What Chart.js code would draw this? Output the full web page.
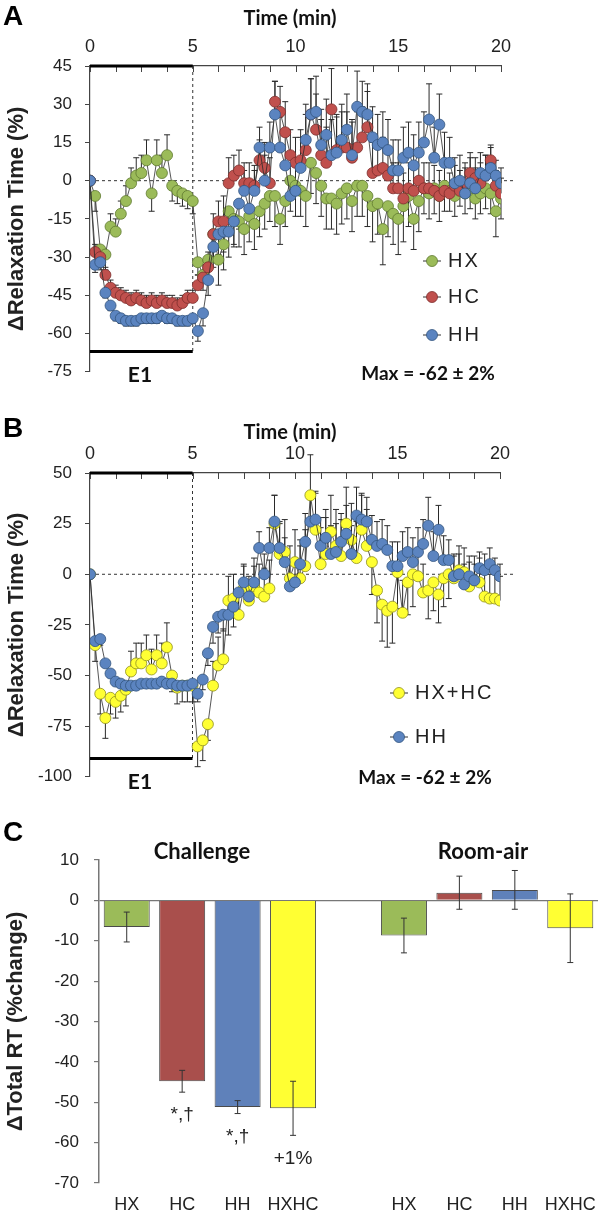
<!DOCTYPE html>
<html>
<head>
<meta charset="utf-8">
<script src="https://cdn.jsdelivr.net/npm/chart.js@4.4.0/dist/chart.umd.min.js"></script>
<style>
  body { margin: 0; background: #fff; width: 600px; height: 1215px; position: relative; overflow: hidden; }
  canvas { position: absolute; left: 0; }
</style>
</head>
<body>
<canvas id="panelA" width="600" height="395" style="top:0"></canvas>
<canvas id="panelB" width="600" height="405" style="top:395px"></canvas>
<canvas id="panelC" width="600" height="415" style="top:800px"></canvas>
<script>
// time points (min), one every 15 s
const timeMin = [0,
  0.25,0.5,0.75,1,1.25,1.5,1.75,2,2.25,2.5,2.75,3,3.25,3.5,3.75,4,4.25,4.5,4.75,5,
  5.25,5.5,5.75,6,6.25,6.5,6.75,7,7.25,7.5,7.75,8,8.25,8.5,8.75,9,9.25,9.5,9.75,10,
  10.25,10.5,10.75,11,11.25,11.5,11.75,12,12.25,12.5,12.75,13,13.25,13.5,13.75,14,14.25,14.5,14.75,15,
  15.25,15.5,15.75,16,16.25,16.5,16.75,17,17.25,17.5,17.75,18,18.25,18.5,18.75,19,19.25,19.5,19.75,20];

// panel A / B series (% change in relaxation time)
const hxValues = [0,
  -6,-27,-29,-18,-20,-13,-8,-1,2,3,8,-5,8,3,10,-2,-4,-5,-6,-8,
  -32,-37,-31,-21,-31,-25,-12,-15,-16,-19,-14,-17,-12,-9,-6,-6,-15,-8,0,-2,
  -4,-6,7,3,-2,-7,-7,-9,-5,-3,-8,-2,-2,-6,-10,-9,-19,-10,-13,-15,
  -10,-6,-15,-8,-3,-5,-3,-6,-2,-4,-6,-2,-5,-3,-7,-5,-3,-5,-12,-7];
const hcValues = [0,
  -28,-30,-37,-42,-44,-45,-46,-47,-46,-47,-48,-47,-48,-47,-48,-48,-49,-48,-46,-46,
  -41,-38,-34,-21,-16,-16,-1,2,4,-1,-1,-2,8,5,-1,31,27,19,10,7,
  8,12,26,20,10,7,28,12,13,13,9,13,17,21,3,4,5,2,-3,-3,
  -7,-3,-4,0,-3,-3,-4,-6,-4,-5,-2,-4,-1,3,1,-1,2,8,-2,-5];
const hhValues = [0,
  -33,-32,-44,-49,-53,-54,-55,-55,-55,-54,-54,-54,-54,-53,-54,-54,-55,-55,-55,-54,
  -59,-52,-39,-26,-21,-20,-20,-16,-9,-4,-11,-4,13,0,13,26,13,6,-6,-4,
  5,16,26,27,14,18,10,11,16,20,10,29,27,26,17,14,15,12,4,4,
  9,11,6,11,15,24,9,22,7,7,-1,0,-5,-1,-3,3,2,5,2,-1];
const hxhcValues = [0,
  -35,-59,-71,-61,-63,-60,-57,-48,-44,-44,-40,-47,-40,-44,-36,-50,-56,-55,-55,-55,
  -85,-82,-74,-55,-45,-42,-13,-12,-20,-7,-13,-6,-9,-11,-7,25,10,11,-2,6,
  -2,4,39,22,5,10,21,14,9,25,17,8,22,14,6,-8,-15,-18,-16,1,
  -19,-4,0,-1,-9,-8,-4,-10,-2,0,-2,2,1,-6,-3,-4,-11,-12,-12,-13];

// one-sided error bars (sign gives direction)
const hxErrors = [0,
  -6,-6,-6,5,5,5,6,6,7,7,8,-7,8,7,8,-6,-5,-5,-5,-5,
  -5,-6,-8,-10,-10,-10,-8,-10,-10,-10,-10,-10,-10,-10,-10,-12,-10,-10,-12,-12,
  -10,-12,-12,-12,-12,-12,-12,-12,-12,-12,-12,-12,-12,-12,-14,-12,-14,-12,-12,-14,
  -14,-12,-12,-12,-10,-10,-10,-10,-10,-8,-8,-8,-8,-8,-8,-8,-8,-8,-10,-8];
const hcErrors = [0,
  3,3,3,3,3,3,3,3,3,3,3,3,3,3,3,3,3,3,3,3,
  4,5,6,8,8,10,10,8,8,8,8,8,8,10,10,8,10,12,10,10,
  12,14,14,14,14,14,16,14,14,14,14,14,12,14,12,12,12,10,10,10,
  10,10,10,10,10,10,10,10,10,8,8,8,8,8,8,8,8,6,6,6];
const hhErrors = [0,
  -3,-3,-2,-2,-2,-2,-2,-2,-2,-2,-2,-2,-2,-2,-2,-2,-2,-2,-2,-2,
  -4,-5,-6,-8,-8,-8,-10,-10,-10,8,8,8,8,10,10,13,12,12,12,12,
  12,14,14,14,14,14,14,14,14,14,14,14,12,12,12,12,12,12,12,12,
  12,12,12,12,12,14,12,12,12,10,10,10,10,10,8,8,8,8,6,6];
const hxhcErrors = [0,
  -8,-10,-10,-8,-8,-8,-8,10,10,10,10,10,10,10,12,-8,-8,-8,-8,-8,
  -10,-10,-8,12,14,15,12,12,12,12,12,14,14,14,14,14,16,16,16,16,
  16,18,20,18,18,18,18,18,18,18,18,18,18,18,-16,-16,-18,-18,-18,-18,
  16,-16,-16,14,14,-14,-14,-14,-14,-12,12,12,12,12,12,12,12,12,12,12];

// panel C
const barLabels = ['HX', 'HC', 'HH', 'HXHC', '', 'HX', 'HC', 'HH', 'HXHC'];
const barValues = [-6.6, -44.8, -51.2, -51.5, null, -8.7, 1.9, 2.6, -6.9];
const barErrors = [3.7, 2.7, 1.6, 6.7, null, 4.3, 4.1, 4.8, 8.5];
const barNotes = ['', '*,†', '*,†', '+1%', '', '', '', '', ''];

const GREEN = '#9bbb59', RED = '#c0504d', BLUE = '#5b84c0', YELLOW = '#ffff33';
const BAR_RED = '#a94f4c', BAR_BLUE = '#5f81ba';
const SANS = 'Liberation Sans, Arial, sans-serif';
const CAL = 'Lato, sans-serif';

function drawText(ctx, txt, x, y, font, align, color) {
    ctx.font = font;
    ctx.fillStyle = color || '#111';
    ctx.textAlign = align || 'center';
    ctx.textBaseline = 'middle';
    ctx.fillText(txt, x, y);
}

const timeDecor = {
    id: 'timeDecor',
    beforeDatasetsDraw(chart, args, o) {
        const { ctx, chartArea: a, scales: { x, y } } = chart;
        ctx.save();
        ctx.strokeStyle = '#333';
        ctx.lineWidth = 1;
        ctx.setLineDash([3, 3]);
        const y0 = y.getPixelForValue(0);
        ctx.beginPath();
        ctx.moveTo(a.left, y0);
        ctx.lineTo(a.right + 14, y0);
        const xe = x.getPixelForValue(o.exposureEnd);
        ctx.moveTo(xe, a.top);
        ctx.lineTo(xe, y.getPixelForValue(o.barLevel));
        ctx.stroke();
        ctx.setLineDash([]);

        // error bars
        ctx.strokeStyle = '#2a2a2a';
        ctx.lineWidth = 1;
        chart.data.datasets.forEach(ds => {
            ds.data.forEach((p, i) => {
                const e = ds.errors[i];
                if (!e) return;
                const px = x.getPixelForValue(p.x);
                const pa = y.getPixelForValue(p.y);
                const pb = y.getPixelForValue(p.y + e);
                ctx.beginPath();
                ctx.moveTo(px, pa);
                ctx.lineTo(px, pb);
                ctx.moveTo(px - 3, pb);
                ctx.lineTo(px + 3, pb);
                ctx.stroke();
            });
        });
        ctx.restore();
    },
    afterDraw(chart, args, o) {
        const { ctx, chartArea: a, scales: { x, y } } = chart;
        ctx.save();
        // inner tick marks on the top axis
        ctx.strokeStyle = '#444';
        ctx.lineWidth = 1;
        x.ticks.forEach(t => {
            const px = Math.round(x.getPixelForValue(t.value)) + 0.5;
            ctx.beginPath();
            ctx.moveTo(px, a.top);
            ctx.lineTo(px, a.top + 6);
            ctx.stroke();
        });
        // exposure bars
        ctx.strokeStyle = '#000';
        ctx.lineWidth = 3;
        const x0 = x.getPixelForValue(0), x5 = x.getPixelForValue(o.exposureEnd);
        ctx.beginPath();
        ctx.moveTo(x0, a.top);
        ctx.lineTo(x5, a.top);
        const yb = y.getPixelForValue(o.barLevel);
        ctx.moveTo(x0, yb);
        ctx.lineTo(x5, yb);
        ctx.stroke();

        drawText(ctx, o.letter, 3, o.letterY, 'bold 28px ' + SANS, 'left', '#000');
        drawText(ctx, 'Time (min)', 290, o.titleY, 'bold 20px ' + CAL, 'center', '#111');
        drawText(ctx, 'E1', 140, o.e1Y, 'bold 21px ' + CAL, 'center', '#111');
        drawText(ctx, 'Max = -62 ± 2%', o.maxX, o.maxY, 'bold 19px ' + CAL, 'center', '#111');

        ctx.save();
        ctx.translate(17, (a.top + a.bottom) / 2);
        ctx.rotate(-Math.PI / 2);
        drawText(ctx, 'ΔRelaxation Time (%)', 0, 0, 'bold 22px ' + SANS, 'center', '#222');
        ctx.restore();

        // legend
        chart.data.datasets.slice().sort((p, q) => p.legendRank - q.legendRank).forEach((ds, i) => {
            const ly = o.legendY[i];
            ctx.strokeStyle = '#333';
            ctx.lineWidth = 1;
            ctx.beginPath();
            ctx.moveTo(o.legendX - 9, ly);
            ctx.lineTo(o.legendX + 9, ly);
            ctx.stroke();
            ctx.beginPath();
            ctx.arc(o.legendX, ly, 5.5, 0, Math.PI * 2);
            ctx.fillStyle = ds.pointBackgroundColor;
            ctx.fill();
            ctx.strokeStyle = ds.pointBorderColor;
            ctx.lineWidth = 0.8;
            ctx.stroke();
            ctx.letterSpacing = '2px';
            drawText(ctx, ds.label, o.legendX + 16, ly, '20px ' + SANS, 'left', '#222');
            ctx.letterSpacing = '0px';
        });
        ctx.restore();
    }
};

function makeTimePanel(canvasId, series, o) {
    return new Chart(document.getElementById(canvasId), {
        type: 'scatter',
        data: {
            datasets: series.map(s => ({
                label: s.label,
                data: timeMin.map((t, i) => ({ x: t, y: s.values[i] })),
                errors: s.errors,
                legendRank: s.rank,
                order: s.order,
                showLine: true,
                borderColor: '#2b2b2b',
                borderWidth: 0.8,
                pointRadius: 5.5,
                pointBackgroundColor: s.color,
                pointBorderColor: s.edge,
                pointBorderWidth: 0.8
            }))
        },
        options: {
            responsive: false,
            animation: false,
            layout: { padding: o.padding },
            plugins: {
                legend: { display: false },
                tooltip: { enabled: false },
                timeDecor: o
            },
            scales: {
                x: {
                    type: 'linear',
                    position: 'top',
                    min: 0,
                    max: 20,
                    afterFit: sc => { sc.height = o.axisTop; },
                    border: { color: '#444', width: 1.2 },
                    grid: { drawOnChartArea: false, drawTicks: false },
                    ticks: {
                        stepSize: 1.25,
                        autoSkip: false,
                        maxRotation: 0,
                        padding: 8,
                        color: '#222',
                        font: { family: SANS, size: 18 },
                        callback: v => (v % 5 === 0 ? v : '')
                    }
                },
                y: {
                    min: o.yMin,
                    max: o.yMax,
                    afterFit: sc => { sc.width = 90; },
                    border: { color: '#444', width: 1.2 },
                    grid: { drawOnChartArea: false, tickLength: 5, tickColor: '#444' },
                    ticks: {
                        stepSize: o.yStep,
                        padding: 13,
                        color: '#222',
                        font: { family: SANS, size: 17 }
                    }
                }
            }
        },
        plugins: [timeDecor]
    });
}

makeTimePanel('panelA', [
    { label: 'HX', values: hxValues, errors: hxErrors, color: GREEN, edge: '#5f7a30', order: 3, rank: 0 },
    { label: 'HC', values: hcValues, errors: hcErrors, color: RED, edge: '#7d2f2d', order: 2, rank: 1 },
    { label: 'HH', values: hhValues, errors: hhErrors, color: BLUE, edge: '#34557f', order: 1, rank: 2 }
], {
    padding: { left: 0, right: 99, top: 0, bottom: 20 },
    axisTop: 66, yMin: -75, yMax: 45, yStep: 15,
    exposureEnd: 5, barLevel: -67,
    letter: 'A', letterY: 17, titleY: 19, e1Y: 375,
    maxX: 428, maxY: 374,
    legendX: 432, legendY: [261, 297, 335]
});

makeTimePanel('panelB', [
    { label: 'HX+HC', values: hxhcValues, errors: hxhcErrors, color: YELLOW, edge: '#8f8f1f', order: 2, rank: 0 },
    { label: 'HH', values: hhValues, errors: hhErrors, color: BLUE, edge: '#34557f', order: 1, rank: 1 }
], {
    padding: { left: 0, right: 100, top: 0, bottom: 18 },
    axisTop: 78, yMin: -100, yMax: 50, yStep: 25,
    exposureEnd: 5, barLevel: -91,
    letter: 'B', letterY: 34, titleY: 38, e1Y: 387,
    maxX: 425, maxY: 383,
    legendX: 399, legendY: [298, 342]
});

const barDecor = {
    id: 'barDecor',
    afterDatasetsDraw(chart) {
        const { ctx, scales: { x, y } } = chart;
        ctx.save();
        ctx.strokeStyle = '#333';
        ctx.lineWidth = 1;
        barValues.forEach((v, i) => {
            if (v === null) return;
            const px = x.getPixelForValue(i);
            const hi = y.getPixelForValue(v + barErrors[i]);
            const lo = y.getPixelForValue(v - barErrors[i]);
            ctx.beginPath();
            ctx.moveTo(px, hi);
            ctx.lineTo(px, lo);
            ctx.moveTo(px - 3, hi);
            ctx.lineTo(px + 3, hi);
            ctx.moveTo(px - 3, lo);
            ctx.lineTo(px + 3, lo);
            ctx.stroke();
            if (barNotes[i]) {
                drawText(ctx, barNotes[i], px, lo + 23, '19px ' + SANS, 'center', '#222');
            }
        });
        ctx.restore();
    },
    afterDraw(chart) {
        const { ctx, chartArea: a } = chart;
        ctx.save();
        drawText(ctx, 'C', 3, 33, 'bold 28px ' + SANS, 'left', '#000');
        drawText(ctx, 'Challenge', 202, 52, 'bold 22px ' + CAL, 'center', '#111');
        drawText(ctx, 'Room-air', 483, 52, 'bold 22px ' + CAL, 'center', '#111');
        ctx.translate(16, (a.top + a.bottom) / 2);
        ctx.rotate(-Math.PI / 2);
        drawText(ctx, 'ΔTotal RT (%change)', 0, 0, 'bold 22px ' + SANS, 'center', '#222');
        ctx.restore();
    }
};

new Chart(document.getElementById('panelC'), {
    type: 'bar',
    data: {
        labels: barLabels,
        datasets: [{
            data: barValues,
            backgroundColor: [GREEN, BAR_RED, BAR_BLUE, YELLOW, 'rgba(0,0,0,0)', GREEN, BAR_RED, BAR_BLUE, YELLOW],
            borderColor: '#4a4a4a',
            borderWidth: 1,
            categoryPercentage: 1,
            barPercentage: 0.83
        }]
    },
    options: {
        responsive: false,
        animation: false,
        layout: { padding: { left: 0, right: 2, top: 60, bottom: 0 } },
        plugins: { legend: { display: false }, tooltip: { enabled: false } },
        scales: {
            x: {
                afterFit: sc => { sc.height = 32; },
                border: { display: false },
                grid: { display: false },
                ticks: { padding: 3, color: '#222', font: { family: SANS, size: 18 }, autoSkip: false, maxRotation: 0 }
            },
            y: {
                min: -70,
                max: 10,
                afterFit: sc => { sc.width = 99; },
                border: { color: '#777', width: 1.5 },
                grid: {
                    tickLength: 5,
                    tickColor: '#777',
                    color: c => (c.tick && c.tick.value === 0 ? '#777' : 'rgba(0,0,0,0)'),
                    lineWidth: 1.2
                },
                ticks: { stepSize: 10, padding: 15, color: '#222', font: { family: SANS, size: 17 } }
            }
        }
    },
    plugins: [barDecor]
});
</script>
</body>
</html>
